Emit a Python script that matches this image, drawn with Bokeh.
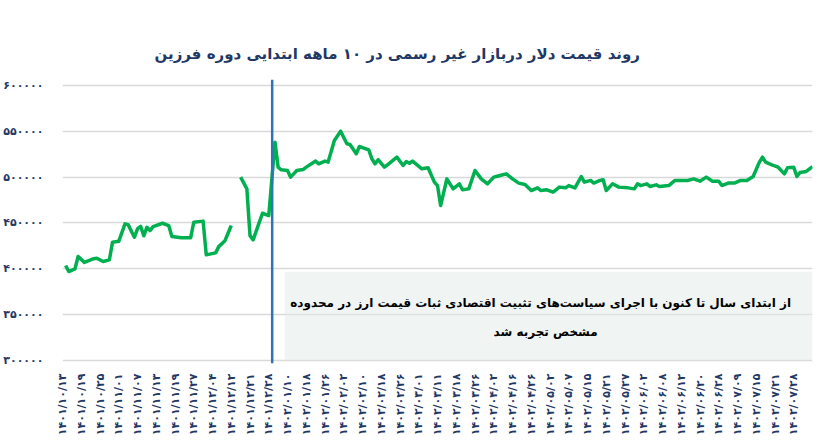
import math
from bokeh.plotting import figure
from bokeh.models import Span, BoxAnnotation, Label, FixedTicker, Range1d, Title
from bokeh.embed import file_html
from bokeh.resources import INLINE

FA = str.maketrans("0123456789", "۰۱۲۳۴۵۶۷۸۹")

title_text = "روند قیمت دلار دربازار غیر رسمی در ۱۰ ماهه ابتدایی دوره فرزین"
note_line1 = "از ابتدای سال تا کنون با اجرای سیاست\u200cهای تثبیت اقتصادی ثبات قیمت ارز در محدوده"
note_line2 = "مشخص تجربه شد"

# observation number (trading-day index) and free-market dollar price (rial)
obs = [1, 2, 4, 5, 7, 10, 11, 13, 15, 16, 18, 20, 21, 23, 24, 25, 26, 27, 28, 29,
       32, 34, 35, 38, 41, 42, 45, 46, 49, 50, 52, 54, 56,
       57, 59, 60, 61, 64, 66, 68, 69, 70, 72, 73, 75, 77, 78, 81, 82, 84, 85,
       87, 89, 91, 92, 94, 95, 98, 99, 100, 101, 103, 104, 107, 109, 110, 111, 112,
       115, 117, 119, 120, 121, 123, 125, 127, 128, 130, 132, 134, 136, 138, 140,
       142, 144, 146, 148, 150, 152, 153, 155, 157, 159, 161, 162, 164, 166, 167,
       169, 170, 172, 173, 174, 176, 178, 181, 183, 184, 185, 187, 188, 190, 191,
       194, 196, 200, 202, 204, 206, 208, 210, 211, 213, 215, 217, 219, 221, 223,
       224, 225, 227, 229, 231, 232, 234, 235, 236, 238, 240]
price = [403600, 397000, 400000, 413500, 407000, 411000, 411500, 408000, 409800, 429000,
         430000, 449000, 448200, 434400, 443500, 446400, 436000, 445300, 441700, 446000,
         449700, 447200, 435200, 433800, 433800, 450800, 452000, 415200, 417400, 424200,
         430700, 447200, float("nan"),
         500000, 487200, 436200, 431600, 460600, 458100, 538100, 510800, 508000, 507200,
         500000, 507200, 508300, 510900, 517500, 514500, 517500, 516400,
         540000, 550100, 536400, 535600, 525400, 533400, 529800, 520000, 514500, 519000,
         510800, 513400, 521800, 512700, 517000, 515200, 517500,
         509100, 510200, 494500, 490800, 469000, 498100, 487200, 492700, 486200, 487200,
         507200, 498100, 492700, 500000, 501800,
         503600, 498100, 493500, 492000, 485400, 488300, 485400, 486200, 483600, 489100,
         488300, 490800, 488300, 500700, 494500,
         496400, 493500, 496400, 497200, 485400, 492700, 489100, 488300, 487200, 492700,
         490800, 492700, 489800, 491600, 489800,
         490800, 496400, 496400, 498100, 495600, 500000, 495600, 495600, 490800, 493500,
         493500, 496400, 496400, 500700, 516400,
         521800, 516400, 513400, 510800, 503600, 510200, 510800, 500700, 505100, 506200,
         511500]

y_ticks = [300000, 350000, 400000, 450000, 500000, 550000, 600000]
date_labels = [
    "1401/10/13", "1401/10/19", "1401/10/25", "1401/11/01", "1401/11/07",
    "1401/11/13", "1401/11/19", "1401/11/27", "1401/12/04", "1401/12/12",
    "1401/12/21", "1401/12/28", "1402/01/10", "1402/01/18", "1402/01/26",
    "1402/02/02", "1402/02/10", "1402/02/18", "1402/02/26", "1402/03/01",
    "1402/03/11", "1402/03/18", "1402/03/26", "1402/04/02", "1402/04/16",
    "1402/04/26", "1402/05/02", "1402/05/07", "1402/05/15", "1402/05/21",
    "1402/05/27", "1402/06/02", "1402/06/08", "1402/06/12", "1402/06/20",
    "1402/06/28", "1402/07/09", "1402/07/15", "1402/07/21", "1402/07/28",
]
label_step = 6
year_start_obs = 67.1
note_left_obs = 71.1
note_top_value = 396900

NAVY = "#1F3864"
GREEN = "#00B050"
FONT = "DejaVu Sans"

p = figure(width=822, height=446, output_backend="svg", toolbar_location=None,
           x_range=Range1d(0, 240), y_range=Range1d(296700, 606500),
           min_border_left=62, min_border_right=10, min_border_top=79,
           min_border_bottom=83)
p.outline_line_color = None
p.background_fill_color = "white"
p.border_fill_color = "white"

p.add_layout(Title(text=title_text, align="left", offset=92, standoff=34,
                   text_font=FONT, text_font_size="15px", text_font_style="bold",
                   text_color=NAVY), "above")

x_ticks = [i * label_step for i in range(len(date_labels))]

p.xaxis.ticker = FixedTicker(ticks=x_ticks)
p.xaxis.major_label_overrides = {t: lab.translate(FA) for t, lab in zip(x_ticks, date_labels)}
p.xaxis.major_label_orientation = math.pi / 2
p.xaxis.major_label_text_font = FONT
p.xaxis.major_label_text_font_size = "11px"
p.xaxis.major_label_text_font_style = "bold"
p.xaxis.major_label_text_color = NAVY
p.xaxis.major_label_standoff = 4
p.xaxis.axis_line_color = None
p.xaxis.major_tick_line_color = None
p.xaxis.minor_tick_line_color = None

p.yaxis.ticker = FixedTicker(ticks=y_ticks)
p.yaxis.major_label_overrides = {t: str(t).translate(FA) for t in y_ticks}
p.yaxis.major_label_text_font = FONT
p.yaxis.major_label_text_font_size = "11px"
p.yaxis.major_label_text_font_style = "bold"
p.yaxis.major_label_text_color = NAVY
p.yaxis.major_label_standoff = 13
p.yaxis.axis_line_color = None
p.yaxis.major_tick_line_color = None
p.yaxis.minor_tick_line_color = None

p.xgrid.grid_line_color = None
p.ygrid.grid_line_color = "#D9D9D9"
p.ygrid.grid_line_width = 1.5

box = BoxAnnotation(left=note_left_obs, bottom=300000, top=note_top_value,
                    fill_color="#E1EBE7", fill_alpha=0.5, line_color=None,
                    level="underlay")
p.add_layout(box)

p.line(obs, price, line_color=GREEN, line_width=3.5, line_join="round")

p.add_layout(Span(location=year_start_obs, dimension="height",
                  line_color="#2E75B6", line_width=2.5))

p.add_layout(Label(x=153, y=362200, text=note_line1, text_align="center",
                   text_baseline="middle", text_font=FONT, text_font_size="12px",
                   text_font_style="bold", text_color="black"))
p.add_layout(Label(x=154.6, y=331000, text=note_line2, text_align="center",
                   text_baseline="middle", text_font=FONT, text_font_size="12px",
                   text_font_style="bold", text_color="black"))

open("out.html", "w").write(file_html(p, INLINE))
